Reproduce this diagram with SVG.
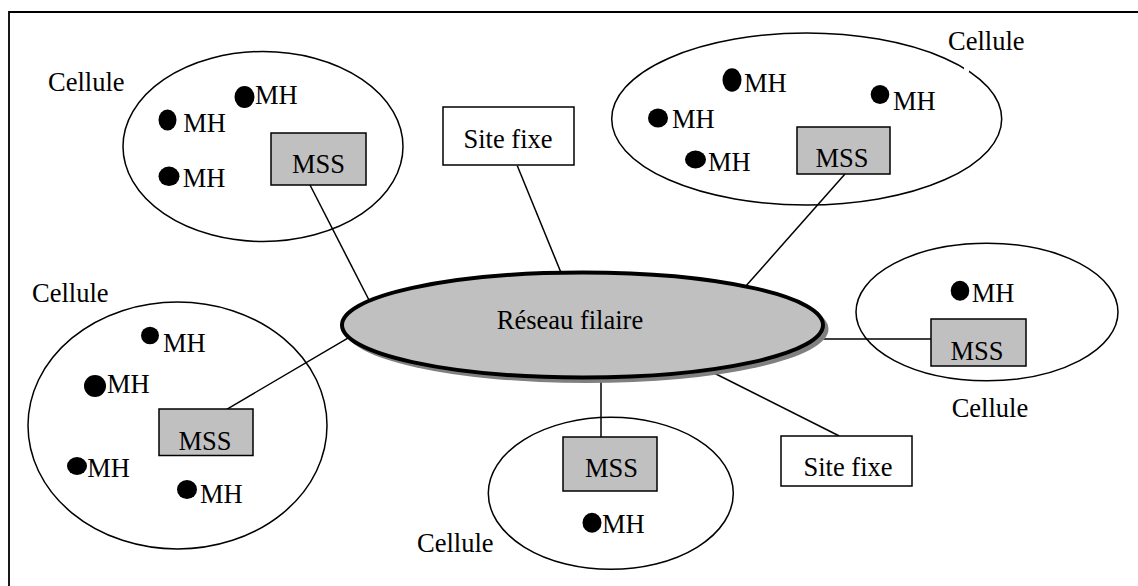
<svg xmlns="http://www.w3.org/2000/svg" width="1138" height="586" viewBox="0 0 1138 586">
<style>
  .t { font-family: "Liberation Serif", "Times New Roman", Tinos, "DejaVu Serif", serif; font-size: 26.5px; fill: #000; }
  .mid { text-anchor: middle; }
  .cell { fill: none; stroke: #000; stroke-width: 1.5; }
  .mss { fill: #c0c0c0; stroke: #000; stroke-width: 1.5; }
  .site { fill: #fff; stroke: #000; stroke-width: 1.5; }
  .dot { fill: #000; }
  .conn line { stroke: #000; stroke-width: 1.5; }
</style>
<rect x="0" y="0" width="1138" height="586" fill="#fff"/>
<path d="M9,586 V12 H1138" fill="none" stroke="#000" stroke-width="1.8"/>

<g id="connectors" class="conn">
  <line x1="310" y1="185" x2="370" y2="302"/>
  <line x1="517.3" y1="165.7" x2="564" y2="280"/>
  <line x1="845" y1="174" x2="745" y2="287"/>
  <line x1="810" y1="339" x2="931" y2="339"/>
  <line x1="839.3" y1="436" x2="712" y2="372"/>
  <line x1="601" y1="375" x2="601" y2="437"/>
  <line x1="226.7" y1="409.3" x2="350" y2="336.8"/>
</g>

<g font-family="Liberation Serif, serif" class="t">
<g id="cell-top-left">
  <ellipse class="cell" cx="263" cy="146.5" rx="140" ry="95"/>
  <text class="t" x="48" y="91">Cellule</text>
  <ellipse class="dot" cx="244.5" cy="97" rx="10" ry="11"/>
  <text class="t" x="255" y="104">MH</text>
  <ellipse class="dot" cx="167.5" cy="120" rx="9" ry="10.5"/>
  <text class="t" x="183.3" y="131.7">MH</text>
  <ellipse class="dot" cx="169" cy="176.3" rx="10.5" ry="9.7"/>
  <text class="t" x="182.7" y="186.7">MH</text>
  <rect class="mss" x="271" y="133" width="95" height="52"/>
  <text class="t mid" x="318.5" y="173">MSS</text>
</g>

<g id="cell-top-right">
  <ellipse class="cell" cx="806.7" cy="119" rx="195" ry="86"/>
  <rect x="964" y="66" width="5" height="6" fill="#fff"/>
  <text class="t" x="948" y="50">Cellule</text>
  <ellipse class="dot" cx="732" cy="80" rx="9.5" ry="11.7"/>
  <text class="t" x="744" y="91.7">MH</text>
  <ellipse class="dot" cx="880" cy="94.5" rx="9.3" ry="9.5"/>
  <text class="t" x="893" y="110">MH</text>
  <ellipse class="dot" cx="658" cy="118" rx="10" ry="9.5"/>
  <text class="t" x="672" y="128">MH</text>
  <ellipse class="dot" cx="695.5" cy="159.5" rx="10.5" ry="9"/>
  <text class="t" x="708" y="171">MH</text>
  <rect class="mss" x="797" y="127" width="93" height="47"/>
  <text class="t mid" x="842" y="166.7">MSS</text>
</g>

<g id="cell-right">
  <ellipse class="cell" cx="987" cy="312" rx="131" ry="68.7"/>
  <ellipse class="dot" cx="960" cy="290.7" rx="9.3" ry="10"/>
  <text class="t" x="971.7" y="301.7">MH</text>
  <rect class="mss" x="931" y="319" width="95" height="47"/>
  <text class="t mid" x="977" y="360">MSS</text>
  <text class="t" x="951.7" y="417.3">Cellule</text>
</g>

<g id="cell-bottom">
  <ellipse class="cell" cx="610.8" cy="493.3" rx="122.5" ry="76"/>
  <rect class="mss" x="563" y="437" width="94" height="54"/>
  <text class="t mid" x="611.5" y="477.3">MSS</text>
  <ellipse class="dot" cx="592" cy="522.7" rx="9.5" ry="10"/>
  <text class="t" x="602" y="533.3">MH</text>
  <text class="t" x="417" y="551.7">Cellule</text>
</g>

<g id="cell-left">
  <ellipse class="cell" cx="177.5" cy="425.5" rx="149.5" ry="123.5"/>
  <text class="t" x="32" y="302">Cellule</text>
  <ellipse class="dot" cx="150" cy="335.5" rx="9" ry="8.7"/>
  <text class="t" x="163" y="351.7">MH</text>
  <ellipse class="dot" cx="95" cy="386" rx="11" ry="11"/>
  <text class="t" x="107" y="393.3">MH</text>
  <ellipse class="dot" cx="77" cy="466" rx="10" ry="9"/>
  <text class="t" x="87.3" y="476.7">MH</text>
  <ellipse class="dot" cx="187" cy="489.5" rx="10" ry="9.5"/>
  <text class="t" x="200" y="503.3">MH</text>
  <rect class="mss" x="159" y="409" width="94" height="46.5"/>
  <text class="t mid" x="205" y="450">MSS</text>
</g>

<g id="site-fixe-top">
  <rect class="site" x="443" y="107" width="131" height="58"/>
  <text class="t mid" x="508" y="148.3">Site fixe</text>
</g>

<g id="site-fixe-bottom">
  <rect class="site" x="781" y="436" width="131" height="50"/>
  <text class="t mid" x="848" y="476">Site fixe</text>
</g>

<g id="reseau-filaire">
  <ellipse cx="586.5" cy="329" rx="242" ry="54" fill="#808080"/>
  <ellipse cx="582.5" cy="325" rx="240.5" ry="52.5" fill="#c0c0c0" stroke="#000" stroke-width="4"/>
  <text class="t mid" x="570" y="329">Réseau filaire</text>
</g>
</g>
</svg>
